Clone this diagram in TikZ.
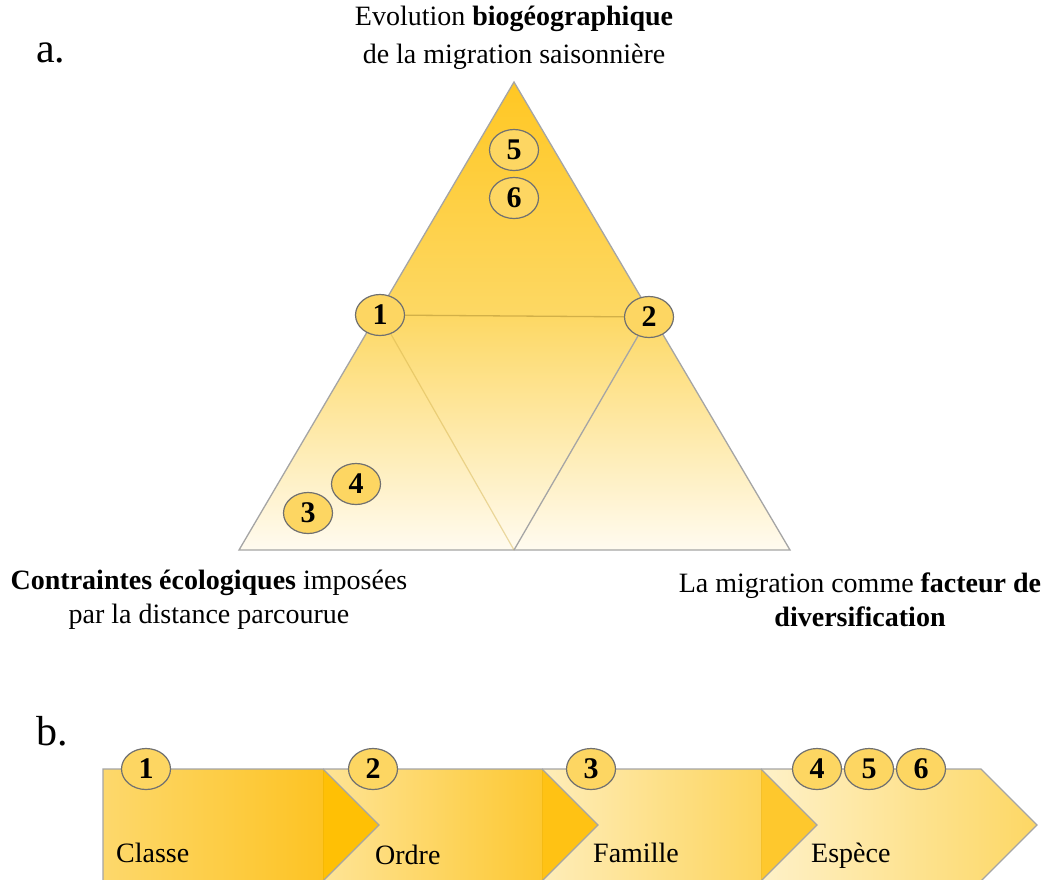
\documentclass[tikz,border=0pt]{standalone}
\usepackage{fontspec}
\setmainfont{Liberation Serif}
\usetikzlibrary{shapes.geometric}
\definecolor{circgray}{RGB}{112,112,112}
\definecolor{circfill}{RGB}{253,214,98}
\definecolor{edgegray}{RGB}{165,165,165}
\definecolor{tritop}{RGB}{255,199,35}
\definecolor{trimid}{RGB}{253,216,100}
\definecolor{tribot}{RGB}{255,251,240}
\definecolor{innerline}{RGB}{210,176,72}
\definecolor{cAl}{RGB}{253,216,108}\definecolor{cAr}{RGB}{253,195,35}\definecolor{cAt}{RGB}{255,192,5}
\definecolor{cBl}{RGB}{254,228,150}\definecolor{cBr}{RGB}{253,200,50}\definecolor{cBt}{RGB}{255,194,20}
\definecolor{cCl}{RGB}{254,237,185}\definecolor{cCr}{RGB}{253,213,95}\definecolor{cCt}{RGB}{254,200,45}
\definecolor{cDl}{RGB}{254,241,200}\definecolor{cDr}{RGB}{253,215,100}
\begin{document}
\begin{tikzpicture}[x=1pt,y=-1pt,
  num/.style={ellipse, draw=circgray, line width=1.2pt, fill=circfill, minimum width=49pt, minimum height=41pt, inner sep=0pt, font=\fontsize{30}{32}\selectfont\bfseries},
  lab/.style={align=center, font=\fontsize{28}{34}\selectfont, inner sep=0pt},
  toplab/.style={align=center, font=\fontsize{28}{38}\selectfont, inner sep=0pt},
  letter/.style={font=\fontsize{42}{48}\selectfont, inner sep=0pt, anchor=base west},
  chevlab/.style={font=\fontsize{28}{30}\selectfont, inner sep=0pt, anchor=base west},
  outline/.style={draw=edgegray, line width=1.3pt, line join=miter}
]
\clip (0,0) rectangle (1048,879);
\fill[white] (0,0) rectangle (1048,879);

% ---------- part a ----------
\coordinate (apex) at (514,82);
\coordinate (bl) at (239,550);
\coordinate (br) at (790,550);
\coordinate (bm) at (514,550);
\shade[top color=tritop, bottom color=tribot, middle color=trimid] (apex) -- (bl) -- (br) -- cycle;
\draw[outline] (apex) -- (bl) -- (br) -- cycle;

\node[num] (c1) at (380,315) {1};
\node[num] (c2) at (649,317) {2};
\node[num] (c5) at (514,150) {5};
\node[num] (c6) at (514,198) {6};
\node[num] (c4) at (356,484) {4};
\node[num] (c3) at (308,513) {3};

\draw[innerline, line width=1.3pt] (c1) -- (c2);
\draw[innerline, line width=1.2pt, opacity=0.45] (c1) -- (bm);
\draw[edgegray, line width=1.3pt] (c2) -- (bm);

\node[letter] (la) at (36,62) {a.};
\node[toplab] (top) at (514,38) {Evolution \textbf{biogéographique}\\de la migration saisonnière};
\node[lab] (bleft) at (209,600) {\textbf{Contraintes écologiques} imposées\\par la distance parcourue};
\node[lab] (bright) at (860,600) {La migration comme \textbf{facteur de}\\\textbf{diversification}};

% ---------- part b ----------
\node[letter] (lb) at (36,745) {b.};

% chevron 4
\shade[left color=cDl, right color=cDr] (761,769) -- (981,769) -- (1037,825) -- (981,881) -- (761,881) -- cycle;
\draw[outline] (761,769) -- (981,769) -- (1037,825) -- (981,881) -- (761,881);
% chevron 3
\shade[left color=cCl, right color=cCr] (542,769) -- (761,769) -- (761,881) -- (542,881) -- cycle;
\fill[cCt] (761,769) -- (817,825) -- (761,881) -- cycle;
\draw[cCt!85!black, opacity=0.25, line width=1pt] (761,769) -- (761,881);
\draw[outline] (542,769) -- (761,769) -- (817,825) -- (761,881) -- (542,881);
% chevron 2
\shade[left color=cBl, right color=cBr] (323,769) -- (542,769) -- (542,881) -- (323,881) -- cycle;
\fill[cBt] (542,769) -- (598,825) -- (542,881) -- cycle;
\draw[cBt!85!black, opacity=0.25, line width=1pt] (542,769) -- (542,881);
\draw[outline] (323,769) -- (542,769) -- (598,825) -- (542,881) -- (323,881);
% chevron 1
\shade[left color=cAl, right color=cAr] (103,769) -- (323,769) -- (323,881) -- (103,881) -- cycle;
\fill[cAt] (323,769) -- (379,825) -- (323,881) -- cycle;
\draw[cAt!85!black, opacity=0.25, line width=1pt] (323,769) -- (323,881);
\draw[outline] (103,881) -- (103,769) -- (323,769) -- (379,825) -- (323,881) -- (103,881);

\node[chevlab] (t1) at (116,862) {Classe};
\node[chevlab] (t2) at (375,864) {Ordre};
\node[chevlab] (t3) at (593,862) {Famille};
\node[chevlab] (t4) at (811,862) {Espèce};

\node[num] (b1) at (146,769) {1};
\node[num] (b2) at (373,769) {2};
\node[num] (b3) at (591,769) {3};
\node[num] (b4) at (817,769) {4};
\node[num] (b5) at (869,769) {5};
\node[num] (b6) at (921,769) {6};
\end{tikzpicture}
\end{document}
